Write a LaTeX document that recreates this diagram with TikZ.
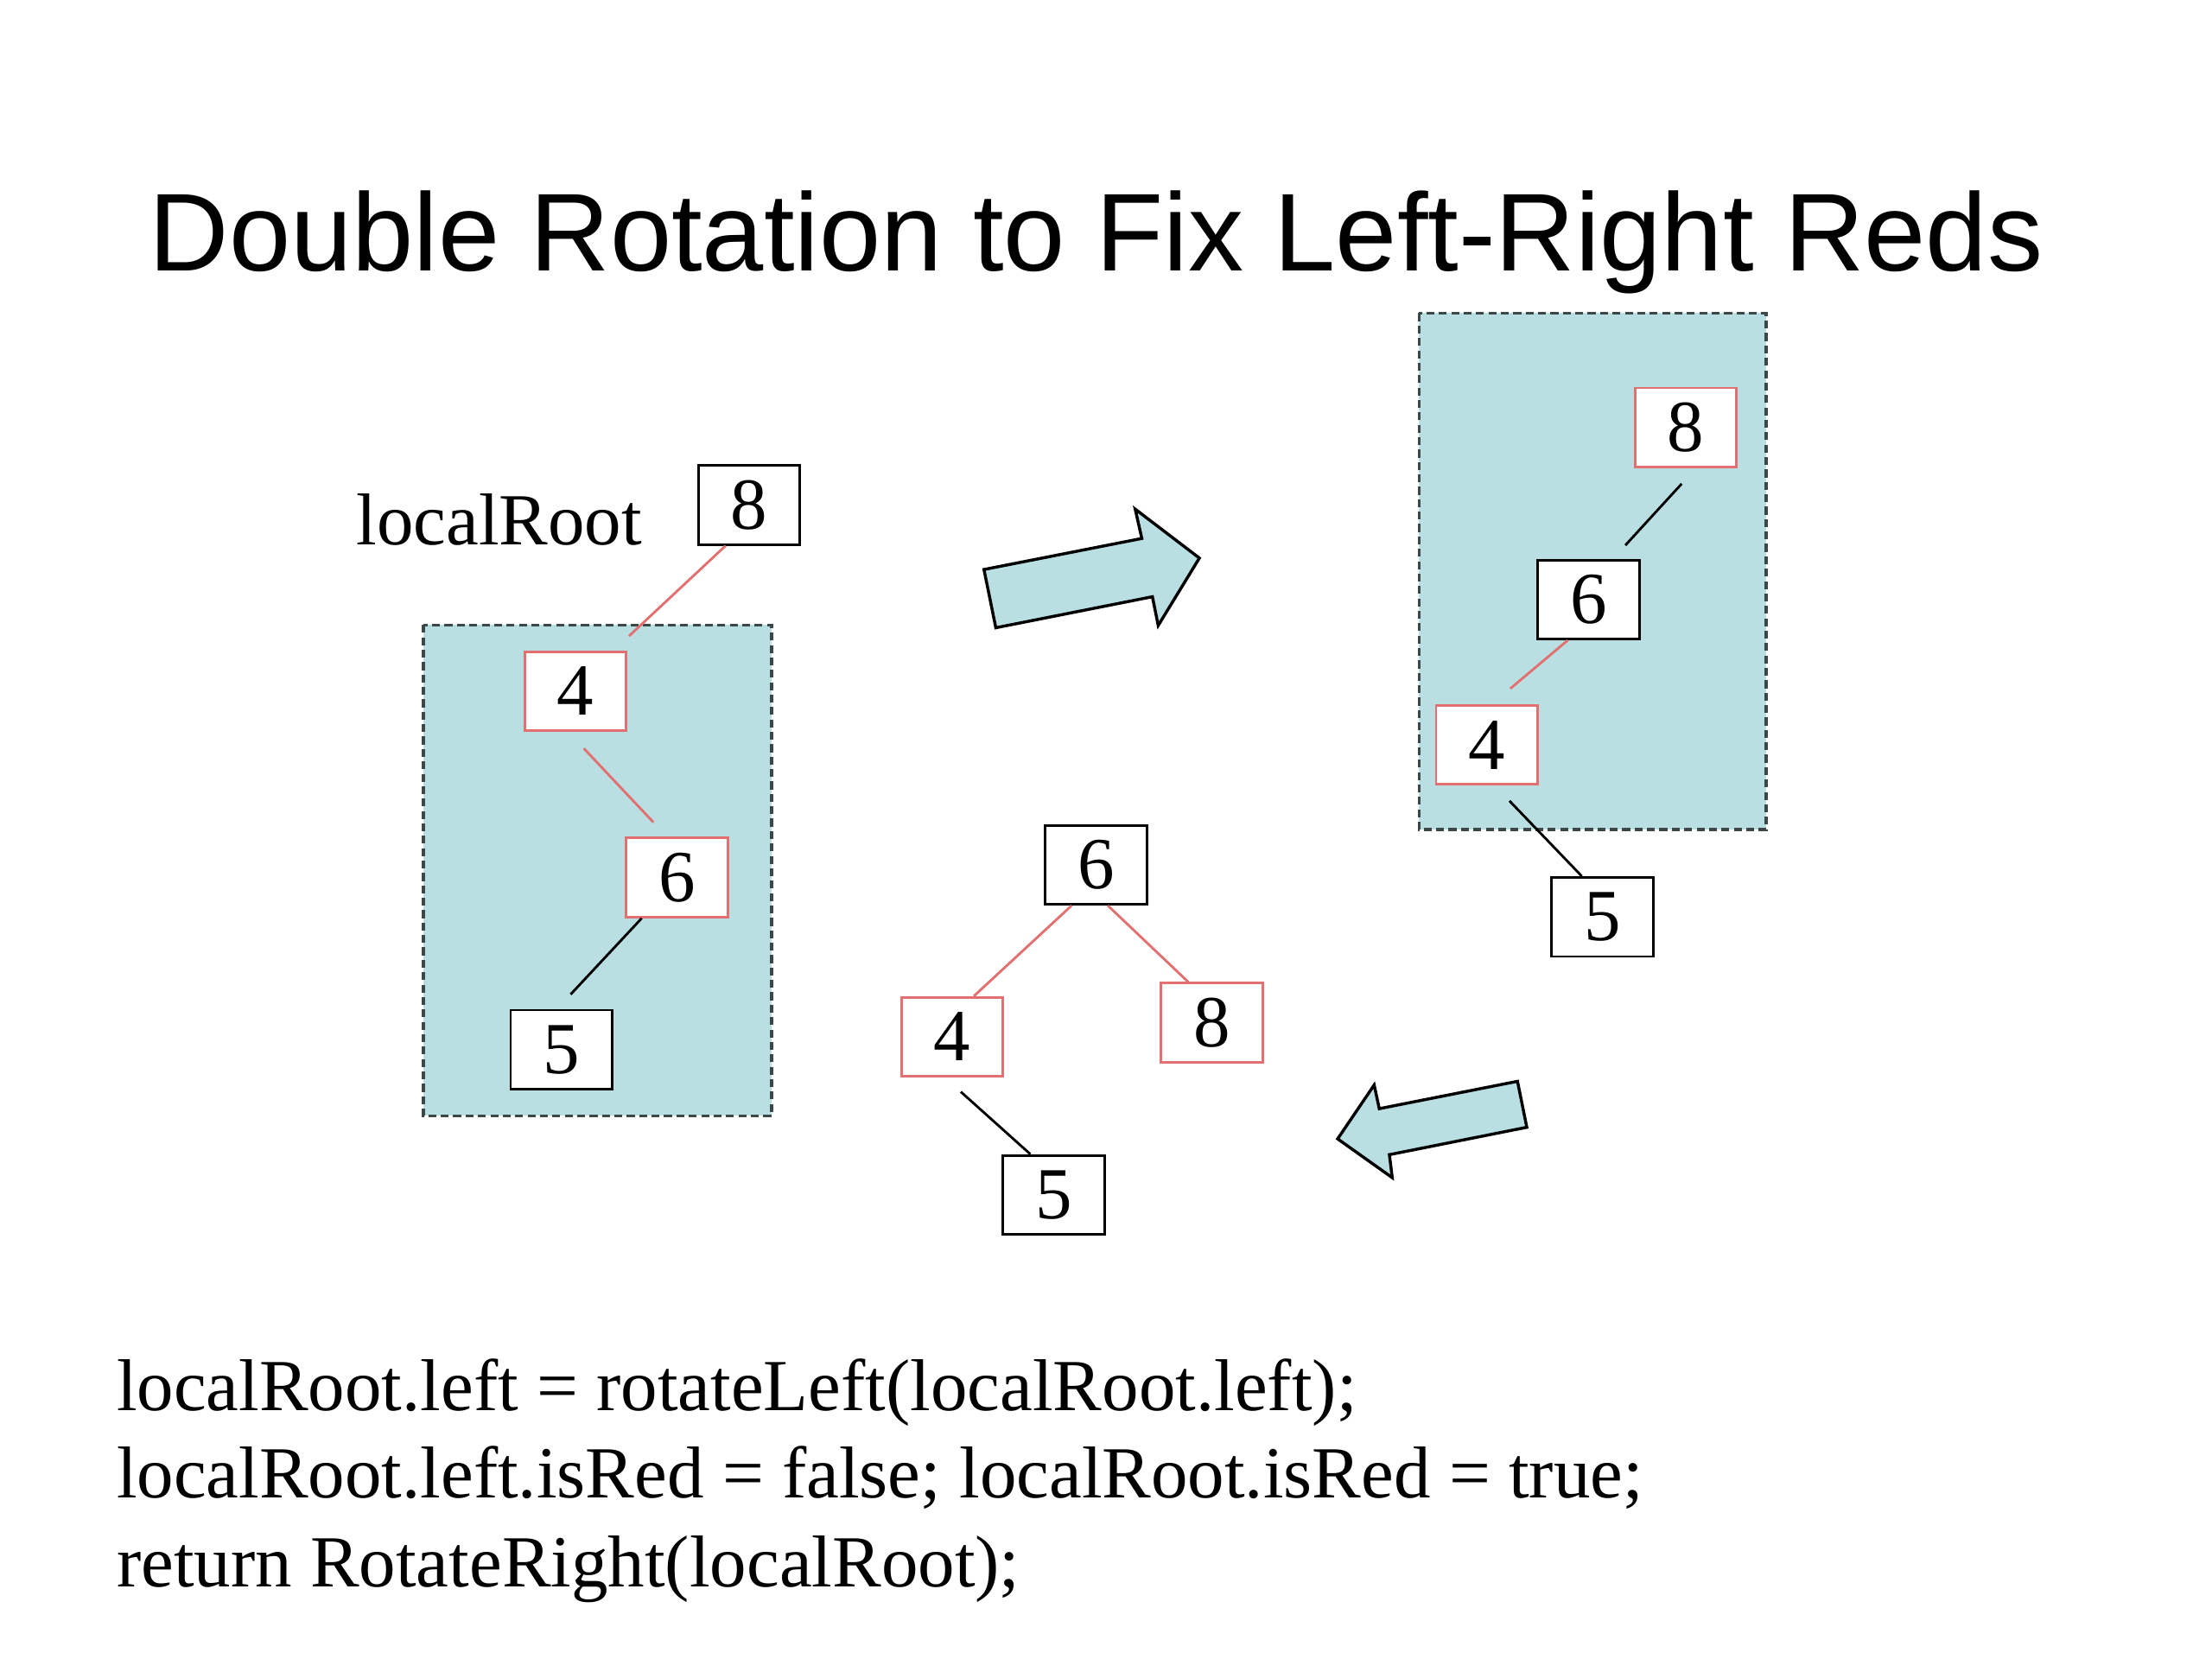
\documentclass[tikz,border=0pt]{standalone}
\usepackage{fontspec}
\setmainfont{Liberation Serif}
\newfontfamily\titlefont{Liberation Sans}
\usepackage{tikz}
\definecolor{bleuclair}{RGB}{185,223,227}
\definecolor{rougeclair}{RGB}{226,112,112}
\definecolor{grisfonce}{RGB}{60,72,72}

\begin{document}
\begin{tikzpicture}[x=0.01cm, y=-0.01cm,
  noeud/.style={draw, fill=white, line width=0.5pt, minimum width=0.72cm, minimum height=0.56cm, inner sep=0pt, font=\fontsize{14.8}{16}\selectfont},
  noir/.style={noeud, draw=black},
  rouge/.style={noeud, draw=rougeclair},
  lienrouge/.style={draw=rougeclair, line width=0.5pt},
  liennoir/.style={draw=black, line width=0.5pt},
  cadre/.style={draw=grisfonce, fill=bleuclair, line width=0.6pt, dash pattern=on 1.6pt off 0.9pt},
  fleche/.style={draw=black, fill=bleuclair, line width=0.6pt, line join=miter},
  texte/.style={font=\fontsize{14.8}{17}\selectfont, inner sep=0pt}]
  \useasboundingbox (0,0) rectangle (1568,1176);

     % Titre
  \node[font=\titlefont\fontsize{22.3}{26}\selectfont, anchor=base, inner sep=0pt] (titre) at (777,192) {Double Rotation to Fix Left-Right Reds};

     % Cadres
  \draw[cadre] (300,443) rectangle (547,791);
  \draw[cadre] (1006,222) rectangle (1252,588);

     % Arbre de depart
  \node[texte, anchor=base west] (racine) at (252,386) {localRoot};
  \node[noir] (L8) at (531,358) {8};
  \node[rouge] (L4) at (408,490) {4};
  \node[rouge] (L6) at (480,622) {6};
  \node[noir] (L5) at (398,744) {5};
  \draw[lienrouge, shorten >=0.15cm] (L8.240) -- (L4.47);
  \draw[lienrouge, shorten <=0.16cm, shorten >=0.14cm] (L4.260) -- (L6.104);
  \draw[liennoir, shorten >=0.14cm] (L6.229) -- (L5.96);

     % Apres rotation gauche
  \node[rouge] (R8) at (1195,303) {8};
  \node[noir] (R6) at (1126,425) {6};
  \node[rouge] (R4) at (1054,528) {4};
  \node[noir] (R5) at (1136,650) {5};
  \draw[liennoir, shorten <=0.15cm, shorten >=0.13cm] (R8.284) -- (R6.59);
  \draw[lienrouge, shorten >=0.17cm] (R6.243) -- (R4.83);
  \draw[liennoir, shorten <=0.15cm] (R4.281) -- (R5.117);

     % Apres rotation droite
  \node[noir] (B6) at (777,613) {6};
  \node[rouge] (B4) at (675,735) {4};
  \node[rouge] (B8) at (859,725) {8};
  \node[noir] (B5) at (747,847) {5};
  \draw[lienrouge] (B6.239) -- (B4.62);
  \draw[lienrouge] (B6.286) -- (B8.120);
  \draw[liennoir, shorten <=0.15cm] (B4.260) -- (B5.120);

     % Fleches
  \draw[fleche] (697.5,403.7) -- (809.4,381.7) -- (804.7,360.9) -- (850.2,395.6)
    -- (821,443.4) -- (816.9,423) -- (705.9,445) -- cycle;
  \draw[fleche] (1075.7,766.5) -- (1082.3,799.1) -- (984.9,818.5) -- (986.9,834.8)
    -- (948.2,807.3) -- (974.1,769.1) -- (977.7,785.9) -- cycle;

     % Code
  \node[texte, anchor=base west] (ligne1) at (82,1000) {localRoot.left = rotateLeft(localRoot.left);};
  \node[texte, anchor=base west] (ligne2) at (82,1062) {localRoot.left.isRed = false; localRoot.isRed = true;};
  \node[texte, anchor=base west] (ligne3) at (82,1125) {return RotateRight(localRoot);};

\end{tikzpicture}
\end{document}
